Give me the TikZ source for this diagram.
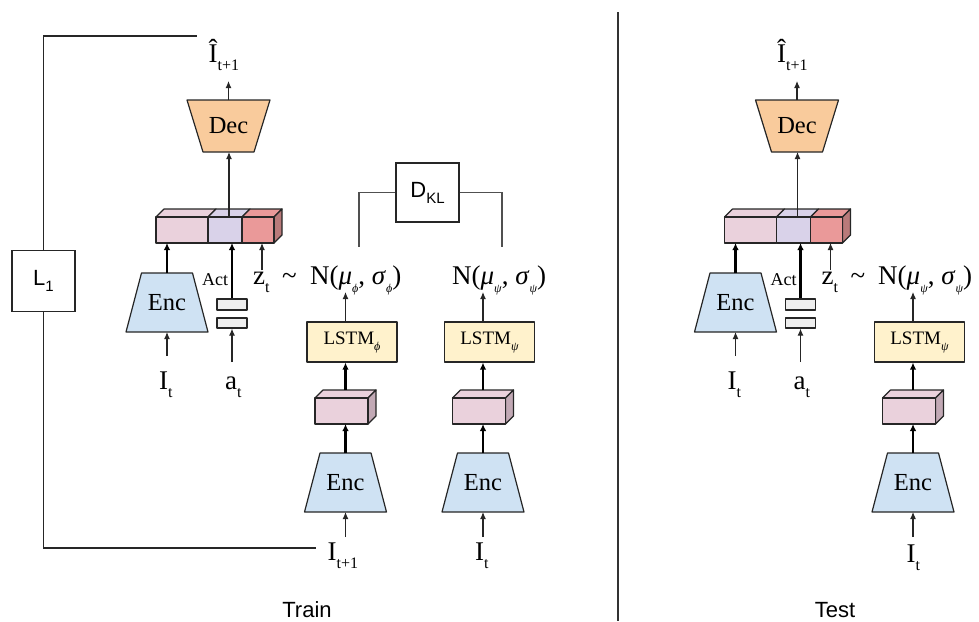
\documentclass[tikz,border=0pt]{standalone}
\usepackage{fontspec}
\setmainfont{Liberation Serif}
\newfontfamily\sansf{Liberation Sans}
\usetikzlibrary{arrows.meta,calc}
\definecolor{encblue}{HTML}{CFE2F3}
\definecolor{decorange}{HTML}{F9CB9C}
\definecolor{lstmyellow}{HTML}{FFF2CC}
\definecolor{vpink}{HTML}{EAD1DC}
\definecolor{vpurple}{HTML}{D9D2E9}
\definecolor{vred}{HTML}{EA9999}
\definecolor{vredside}{HTML}{B97A7A}
\definecolor{vpinkside}{HTML}{C2A9B5}
\definecolor{actgray}{HTML}{EEEEEE}
\definecolor{lossgray}{HTML}{505050}
\newcommand\lowsub[3]{\raisebox{-#2pt}{\fontsize{#1}{#1}\selectfont #3}}
\tikzset{
  shapeline/.style={draw=black!85, line width=1.2pt, line join=round},
  thinarrow/.style={draw=black!85, line width=1.1pt, -{Latex[length=7pt,width=6pt]}},
  thickarrow/.style={draw=black, line width=2.2pt, -{Latex[length=7pt,width=6.5pt]}},
  lossline/.style={draw=lossgray, line width=1.2pt},
  lbl/.style={inner sep=0pt, anchor=base west, font=\fontsize{27}{27}\selectfont},
  smalllbl/.style={inner sep=0pt, anchor=base west, font=\fontsize{18}{18}\selectfont},
  sanslbl/.style={inner sep=0pt, anchor=base, font=\sansf\fontsize{22}{22}\selectfont},
  lossbox/.style={draw=black!85, line width=1.2pt, fill=white, inner sep=0pt, font=\sansf\fontsize{22}{22}\selectfont},
  actbox/.style={shapeline, fill=actgray, minimum width=30pt, inner sep=0pt},
  lstmbox/.style={shapeline, fill=lstmyellow, minimum width=90pt, minimum height=40pt, inner sep=0pt, font=\fontsize{19}{19}\selectfont},
  enc/.pic={
    \path[shapeline, fill=encblue] (-25.5,-29.5) -- (25.5,-29.5) -- (41,29.5) -- (-41,29.5) -- cycle;
    \node[inner sep=0pt, font=\fontsize{24.5}{24.5}\selectfont] (-txt) at (0,0) {Enc};
    \coordinate (-top) at (0,-29.5);
    \coordinate (-bot) at (0,29.5);
  },
  dec/.pic={
    \path[shapeline, fill=decorange] (-41.5,-26) -- (41.5,-26) -- (25.5,26) -- (-25.5,26) -- cycle;
    \node[inner sep=0pt, font=\fontsize{24.5}{24.5}\selectfont] (-txt) at (0,0) {Dec};
    \coordinate (-top) at (0,-26);
    \coordinate (-bot) at (0,26);
  },
  vec/.pic={
    \path[shapeline, fill=vpink] (0,0) -- (8,-8) -- (60,-8) -- (52,0) -- cycle;
    \path[shapeline, fill=vpurple] (52,0) -- (60,-8) -- (94,-8) -- (86,0) -- cycle;
    \path[shapeline, fill=vred] (86,0) -- (94,-8) -- (126,-8) -- (118,0) -- cycle;
    \path[shapeline, fill=vredside] (118,0) -- (126,-8) -- (126,18) -- (118,26) -- cycle;
    \path[shapeline, fill=vpink] (0,0) rectangle (52,26);
    \path[shapeline, fill=vpurple] (52,0) rectangle (86,26);
    \path[shapeline, fill=vred] (86,0) rectangle (118,26);
    \coordinate (-encin) at (12,26);
    \coordinate (-actin) at (77,26);
    \coordinate (-zin) at (106,26);
    \coordinate (-out) at (73,0);
  },
  blk/.pic={
    \path[shapeline, fill=vpink] (0,0) -- (8,-8) -- (61,-8) -- (53,0) -- cycle;
    \path[shapeline, fill=vpinkside] (53,0) -- (61,-8) -- (61,18) -- (53,26) -- cycle;
    \path[shapeline, fill=vpink] (0,0) rectangle (53,26);
    \coordinate (-top) at (30.5,-8);
    \coordinate (-bot) at (30.5,26);
  }
}
% generator part (Enc + action + z -> Dec), names prefixed by #1
\newcommand\genpart[1]{%
  \pic (#1enc) at (167,302.5) {enc};
  \pic (#1vec) at (156,217) {vec};
  \pic (#1dec) at (228.5,126) {dec};
  \node[actbox, minimum height=11pt] (#1actA) at (232,304.5) {};
  \node[actbox, minimum height=10pt] (#1actB) at (232,323) {};
  \node[lbl] (#1It) at (159,389) {I\lowsub{16}{8}{t}};
  \node[lbl] (#1at) at (225,389) {a\lowsub{16}{8}{t}};
  \node[lbl] (#1zt) at (253,284) {z\lowsub{16}{8}{t}};
  \node[lbl] (#1tl) at (282,284) {\textasciitilde};
  \node[lbl] (#1Ih) at (208.5,62) {Î\lowsub{16}{8}{t+1}};
  \node[smalllbl] (#1actl) at (202,285) {Act};
  \draw[thinarrow] ($(#1enc-bot |- #1It.north)+(0,-15)$) -- (#1enc-bot);
  \draw[thinarrow] ($(#1actB.south |- #1at.north)+(0,-14)$) -- (#1actB.south);
  \draw[thinarrow] ($(#1vec-zin |- #1zt.north)+(0,-1)$) -- (#1vec-zin);
  \draw[thickarrow] (#1enc-top) -- (#1enc-top |- #1vec-encin);
  \draw[thickarrow] (#1actA.north) -- (#1actA.north |- #1vec-actin);
  \draw[thinarrow] (#1vec-out) -- (#1vec-out |- #1dec-bot);
  \draw[thinarrow] (#1dec-top) -- (#1dec-top |- 0,81);
}
% encoder -> LSTM column, #1 prefix, #2 column x, #3 LSTM subscript
\newcommand\lstmcol[3]{%
  \pic (#1enc) at (#2,482.5) {enc};
  \pic (#1blk) at ($(#2,398)+(-30.5,0)$) {blk};
  \node[lstmbox] (#1lstm) at ($(#2,342)+(6.5,0)$) {LSTM\lowsub{12}{6}{\textit{#3}}};
  \draw[thickarrow] (#1enc-top) -- (#1enc-top |- #1blk-bot);
  \draw[thickarrow] (#1blk-top) -- (#1blk-top |- #1lstm.south);
}
\begin{document}
\begin{tikzpicture}[x=1pt, y=-1pt]
\useasboundingbox (0,0) rectangle (979,621);

% ---------------- Train ----------------
\genpart{A}
\lstmcol{P}{345.5}{ϕ}
\lstmcol{Q}{483}{ψ}
\node[lbl] (Nphi) at (310,284) {N(\textit{μ}\lowsub{12}{8}{\textit{ϕ}}, \textit{σ}\lowsub{12}{8}{\textit{ϕ}})};
\node[lbl] (Npsi) at (452,284) {N(\textit{μ}\lowsub{12}{8}{\textit{ψ}}, \textit{σ}\lowsub{12}{8}{\textit{ψ}})};
\node[lbl] (Itp) at (327.5,560) {I\lowsub{16}{8}{t+1}};
\node[lbl] (ItQ) at (475,560) {I\lowsub{16}{8}{t}};
\draw[thinarrow] ($(Penc-bot |- Itp.north)+(0,-5)$) -- (Penc-bot);
\draw[thinarrow] ($(Qenc-bot |- ItQ.north)+(0,-5)$) -- (Qenc-bot);
\draw[thinarrow] (Pblk-top |- Plstm.north) -- ($(Pblk-top |- Nphi.base)+(0,8)$);
\draw[thinarrow] (Qblk-top |- Qlstm.north) -- ($(Qblk-top |- Npsi.base)+(0,8)$);

% KL divergence
\node[lossbox, minimum width=63pt, minimum height=59pt] (DKL) at (427.5,192.5) {D\lowsub{15}{6}{KL}};
\coordinate (klL) at (359,247);
\coordinate (klR) at (502,247);
\draw[lossline] (DKL.west) -| (klL);
\draw[lossline] (DKL.east) -| (klR);

% L1 loss
\node[lossbox, minimum width=63pt, minimum height=61pt] (L1) at (43.5,281) {L\lowsub{15}{6}{1}};
\coordinate (l1top) at (197,36);
\coordinate (l1bot) at (316,548);
\draw[line width=1.1pt, black!85] (L1.north) |- (l1top);
\draw[line width=1.1pt, black!85] (L1.south) |- (l1bot);

\node[sanslbl] (train) at (307,617) {Train};

% divider
\coordinate (divtop) at (618,12);
\coordinate (divbot) at (618,621);
\draw[line width=1.1pt, black!80] (divtop) -- (divbot);

% ---------------- Test ----------------
\begin{scope}[shift={(568.5,0)}]
\genpart{T}
\end{scope}
\lstmcol{U}{913}{ψ}
\node[lbl] (NpsiT) at (878,284) {N(\textit{μ}\lowsub{12}{8}{\textit{ψ}}, \textit{σ}\lowsub{12}{8}{\textit{ψ}})};
\node[lbl] (ItU) at (906.5,562) {I\lowsub{16}{8}{t}};
\draw[thinarrow] ($(Uenc-bot |- ItU.north)+(0,-7)$) -- (Uenc-bot);
\draw[thinarrow] (Ublk-top |- Ulstm.north) -- ($(Ublk-top |- NpsiT.base)+(0,8)$);

\node[sanslbl] (test) at (835,617) {Test};
\end{tikzpicture}
\end{document}
